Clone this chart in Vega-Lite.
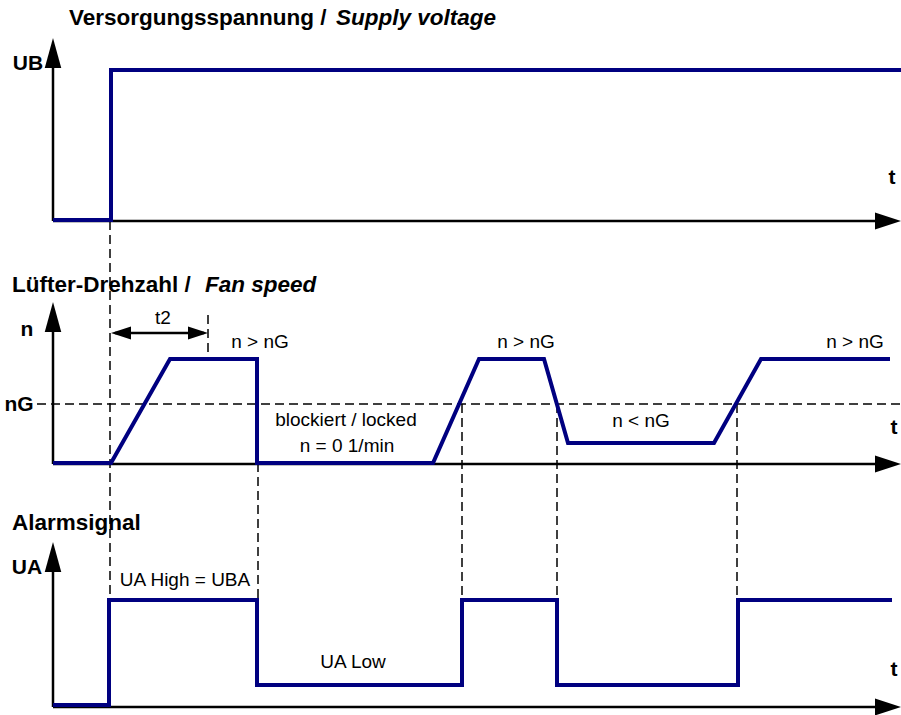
{
  "$schema": "https://vega.github.io/schema/vega-lite/v6.json",
  "width": 901,
  "height": 715,
  "padding": 0,
  "autosize": {"type": "none"},
  "background": "#ffffff",
  "config": {"view": {"stroke": null}},
  "datasets": {
    "signals": [
      {"signal": "UB", "i": 1, "x": 53, "y": 220},
      {"signal": "UB", "i": 2, "x": 111, "y": 220},
      {"signal": "UB", "i": 3, "x": 111, "y": 70},
      {"signal": "UB", "i": 4, "x": 901, "y": 70},
      {"signal": "n", "i": 1, "x": 53, "y": 463},
      {"signal": "n", "i": 2, "x": 111, "y": 463},
      {"signal": "n", "i": 3, "x": 170, "y": 359},
      {"signal": "n", "i": 4, "x": 257, "y": 359},
      {"signal": "n", "i": 5, "x": 257, "y": 463},
      {"signal": "n", "i": 6, "x": 433, "y": 463},
      {"signal": "n", "i": 7, "x": 479, "y": 359},
      {"signal": "n", "i": 8, "x": 544, "y": 359},
      {"signal": "n", "i": 9, "x": 568, "y": 443},
      {"signal": "n", "i": 10, "x": 714, "y": 443},
      {"signal": "n", "i": 11, "x": 761, "y": 359},
      {"signal": "n", "i": 12, "x": 890, "y": 359},
      {"signal": "UA", "i": 1, "x": 53, "y": 705},
      {"signal": "UA", "i": 2, "x": 109, "y": 705},
      {"signal": "UA", "i": 3, "x": 109, "y": 600},
      {"signal": "UA", "i": 4, "x": 257, "y": 600},
      {"signal": "UA", "i": 5, "x": 257, "y": 685},
      {"signal": "UA", "i": 6, "x": 462, "y": 685},
      {"signal": "UA", "i": 7, "x": 462, "y": 600},
      {"signal": "UA", "i": 8, "x": 557, "y": 600},
      {"signal": "UA", "i": 9, "x": 557, "y": 685},
      {"signal": "UA", "i": 10, "x": 738, "y": 685},
      {"signal": "UA", "i": 11, "x": 738, "y": 600},
      {"signal": "UA", "i": 12, "x": 892, "y": 600}
    ],
    "axes": [
      {"x": 53, "y": 221, "x2": 53, "y2": 50},
      {"x": 53, "y": 221, "x2": 880, "y2": 221},
      {"x": 53, "y": 464, "x2": 53, "y2": 314},
      {"x": 53, "y": 464, "x2": 880, "y2": 464},
      {"x": 53, "y": 707, "x2": 53, "y2": 554},
      {"x": 53, "y": 707, "x2": 880, "y2": 707},
      {"x": 115, "y": 333, "x2": 204, "y2": 333}
    ],
    "dashes": [
      {"x": 110, "y": 221, "x2": 110, "y2": 600},
      {"x": 208, "y": 315, "x2": 208, "y2": 359},
      {"x": 258, "y": 463, "x2": 258, "y2": 600},
      {"x": 462, "y": 404, "x2": 462, "y2": 600},
      {"x": 557, "y": 404, "x2": 557, "y2": 600},
      {"x": 737, "y": 404, "x2": 737, "y2": 600},
      {"x": 37, "y": 404, "x2": 901, "y2": 404}
    ],
    "heads": [
      {"dir": "up", "x": 53, "y": 53},
      {"dir": "up", "x": 53, "y": 317},
      {"dir": "up", "x": 53, "y": 557},
      {"dir": "right", "x": 888, "y": 221},
      {"dir": "right", "x": 888, "y": 464},
      {"dir": "right", "x": 888, "y": 707},
      {"dir": "smallleft", "x": 121, "y": 333},
      {"dir": "smallright", "x": 198, "y": 333}
    ],
    "texts": [
      {"style": "title", "text": "Versorgungsspannung /", "x": 69, "y": 18},
      {"style": "titleItalic", "text": "Supply voltage", "x": 336, "y": 18},
      {"style": "title", "text": "Lüfter-Drehzahl /", "x": 12, "y": 285},
      {"style": "titleItalic", "text": "Fan speed", "x": 205, "y": 285},
      {"style": "title", "text": "Alarmsignal", "x": 12, "y": 523},
      {"style": "axis", "text": "UB", "x": 28, "y": 64},
      {"style": "axis", "text": "n", "x": 27, "y": 330},
      {"style": "axis", "text": "nG", "x": 19, "y": 405},
      {"style": "axis", "text": "UA", "x": 27, "y": 568},
      {"style": "axis", "text": "t", "x": 892, "y": 178},
      {"style": "axis", "text": "t", "x": 894, "y": 428},
      {"style": "axis", "text": "t", "x": 894, "y": 670},
      {"style": "label", "text": "t2", "x": 163, "y": 318},
      {"style": "label", "text": "n > nG", "x": 260, "y": 342},
      {"style": "label", "text": "n > nG", "x": 526, "y": 342},
      {"style": "label", "text": "n > nG", "x": 855, "y": 342},
      {"style": "label", "text": "blockiert / locked", "x": 346, "y": 420},
      {"style": "label", "text": "n = 0 1/min", "x": 347, "y": 446},
      {"style": "label", "text": "n < nG", "x": 641, "y": 421},
      {"style": "label", "text": "UA High = UBA", "x": 185, "y": 580},
      {"style": "label", "text": "UA Low", "x": 353, "y": 662}
    ]
  },
  "encoding": {
    "x": {"field": "x", "type": "quantitative", "scale": {"domain": [0, 901], "nice": false, "zero": false}, "axis": null},
    "y": {"field": "y", "type": "quantitative", "scale": {"domain": [0, 715], "reverse": true, "nice": false, "zero": false}, "axis": null}
  },
  "layer": [
    {
      "data": {"name": "dashes"},
      "mark": {"type": "rule", "color": "#000000", "strokeWidth": 1.5, "strokeDash": [9, 5]},
      "encoding": {"x2": {"field": "x2"}, "y2": {"field": "y2"}}
    },
    {
      "data": {"name": "axes"},
      "mark": {"type": "rule", "color": "#000000", "strokeWidth": 2.5},
      "encoding": {"x2": {"field": "x2"}, "y2": {"field": "y2"}}
    },
    {
      "data": {"name": "heads"},
      "transform": [{"filter": "datum.dir === 'up'"}],
      "mark": {"type": "point", "shape": "M0,-1L0.55,1L-0.55,1Z", "size": 900, "filled": true, "fill": "#000000", "opacity": 1, "strokeWidth": 0}
    },
    {
      "data": {"name": "heads"},
      "transform": [{"filter": "datum.dir === 'right'"}],
      "mark": {"type": "point", "shape": "M1,0L-1,-0.65L-1,0.65Z", "size": 676, "filled": true, "fill": "#000000", "opacity": 1, "strokeWidth": 0}
    },
    {
      "data": {"name": "heads"},
      "transform": [{"filter": "datum.dir === 'smallleft'"}],
      "mark": {"type": "point", "shape": "M-1,0L1,-0.65L1,0.65Z", "size": 400, "filled": true, "fill": "#000000", "opacity": 1, "strokeWidth": 0}
    },
    {
      "data": {"name": "heads"},
      "transform": [{"filter": "datum.dir === 'smallright'"}],
      "mark": {"type": "point", "shape": "M1,0L-1,-0.65L-1,0.65Z", "size": 400, "filled": true, "fill": "#000000", "opacity": 1, "strokeWidth": 0}
    },
    {
      "data": {"name": "signals"},
      "mark": {"type": "line", "color": "#000080", "strokeWidth": 4, "strokeJoin": "miter", "strokeCap": "butt"},
      "encoding": {"detail": {"field": "signal"}, "order": {"field": "i", "type": "quantitative"}}
    },
    {
      "data": {"name": "texts"},
      "transform": [{"filter": "datum.style === 'title'"}],
      "mark": {"type": "text", "align": "left", "baseline": "middle", "font": "Liberation Sans", "fontSize": 22.5, "fontWeight": "bold", "color": "#000000"},
      "encoding": {"text": {"field": "text"}}
    },
    {
      "data": {"name": "texts"},
      "transform": [{"filter": "datum.style === 'titleItalic'"}],
      "mark": {"type": "text", "align": "left", "baseline": "middle", "font": "Liberation Sans", "fontSize": 22.5, "fontWeight": "bold", "fontStyle": "italic", "color": "#000000"},
      "encoding": {"text": {"field": "text"}}
    },
    {
      "data": {"name": "texts"},
      "transform": [{"filter": "datum.style === 'axis'"}],
      "mark": {"type": "text", "align": "center", "baseline": "middle", "font": "Liberation Sans", "fontSize": 21, "fontWeight": "bold", "color": "#000000"},
      "encoding": {"text": {"field": "text"}}
    },
    {
      "data": {"name": "texts"},
      "transform": [{"filter": "datum.style === 'label'"}],
      "mark": {"type": "text", "align": "center", "baseline": "middle", "font": "Liberation Sans", "fontSize": 19, "color": "#000000"},
      "encoding": {"text": {"field": "text"}}
    }
  ]
}
